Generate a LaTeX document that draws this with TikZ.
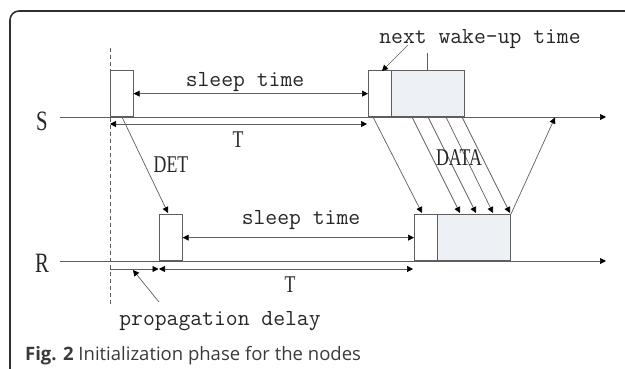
\documentclass[tikz,border=0pt]{standalone}
\usepackage{fontspec}
\setmainfont{Liberation Serif}
\newfontfamily\condf[FakeStretch=0.74]{Liberation Serif}
\newfontfamily\capf{Open Sans}
\usetikzlibrary{arrows.meta}
\definecolor{linec}{HTML}{5E5E5E}
\definecolor{boxfill}{HTML}{EDF0F5}
\definecolor{framec}{HTML}{303030}
\definecolor{capc}{HTML}{3A3A3A}
\tikzset{
  ln/.style={draw=linec, line width=0.7pt},
  tipk/.style={Triangle[length=6pt,width=6pt,color=black]},
  arr/.style={ln, -{Triangle[length=6pt,width=6pt,color=black]}},
  darr/.style={ln, {Triangle[length=6pt,width=6pt,color=black]}-{Triangle[length=6pt,width=6pt,color=black]}},
  wbox/.style={draw=linec, line width=0.7pt, fill=white, inner sep=0pt, minimum width=23pt, minimum height=46pt, anchor=south west},
  gbox/.style={wbox, fill=boxfill, minimum width=73pt},
  mono/.style={font=\ttfamily\fontsize{23}{27}\selectfont, text=black!85, inner sep=0pt, anchor=base},
  capl/.style={font=\condf\fontsize{24}{28}\selectfont, text=black!85, inner sep=0pt, anchor=base},
  axl/.style={font=\condf\fontsize{28}{32}\selectfont, text=black!85, inner sep=0pt}
}
\begin{document}
\begin{tikzpicture}[x=1pt,y=-1pt]
\useasboundingbox (0,0) rectangle (625,369);
% frame
\draw[framec, line width=1.6pt, rounded corners=9pt] (10,720) |- (720,11);
% time axes
\coordinate (s0) at (60,117);
\coordinate (s9) at (606,117);
\coordinate (r0) at (60,261);
\coordinate (r9) at (606,261);
\node[axl] (S) at (42,121) {S};
\node[axl] (R) at (42,263) {R};
\draw[arr] (s0) -- (s9);
\draw[arr] (r0) -- (r9);
% dashed reference line
\coordinate (d0) at (110,48);
\coordinate (d1) at (110,305);
\draw[ln, dashed, dash pattern=on 4pt off 3pt] (d0) -- (d1);
% boxes on S
\node[wbox] (s1) at (110,117) {};
\node[wbox] (s2) at (368,117) {};
\node[gbox] (s3) at (391,117) {};
% boxes on R
\node[wbox] (r1) at (159,261) {};
\node[wbox] (r2) at (414,261) {};
\node[gbox] (r3) at (437,261) {};
% sleep time arrows
\draw[darr] (s1.east) -- (s2.west);
\node[mono] (slS) at (245,87) {sleep time};
\draw[darr] (r1.east) -- (r2.west);
\node[mono] (slR) at (301,225) {sleep time};
% T arrows
\coordinate (tS0) at (110,124);
\coordinate (tS1) at (367,124);
\draw[darr] (tS0) -- (tS1);
\node[capl] (TS) at (238,148) {T};
\coordinate (tR0) at (159,269);
\coordinate (tR1) at (413,269);
\draw[darr] (tR0) -- (tR1);
\node[capl] (TR) at (290,292) {T};
% propagation delay
\coordinate (p0) at (110,269);
\coordinate (p1) at (158.5,269);
\draw[arr] (p0) -- (p1);
\coordinate (pa0) at (159,302);
\coordinate (pa1) at (133,270);
\draw[arr] (pa0) -- (pa1);
\node[mono] (pd) at (220,325) {propagation delay};
% DET
\coordinate (det0) at (122,117);
\coordinate (det1) at (168,213);
\draw[arr] (det0) -- (det1);
\node[capl] (DET) at (171,173) {DET};
% next wake-up time
\node[mono] (nw) at (480,44) {next wake-up time};
\coordinate (nw0) at (408,45);
\coordinate (nw1) at (382,71);
\draw[arr] (nw0) -- (nw1);
\coordinate (nv0) at (427,53);
\draw[ln] (nv0) -- (s3.north -| nv0);
% DATA
\coordinate (a0) at (373,117);  \coordinate (b0) at (422,213);
\coordinate (a1) at (412,117);  \coordinate (b1) at (460,213);
\coordinate (a2) at (428,117);  \coordinate (b2) at (476,213);
\coordinate (a3) at (446,117);  \coordinate (b3) at (493,213);
\coordinate (a4) at (462,117);  \coordinate (b4) at (510,213);
\draw[arr] (a0) -- (b0);
\draw[arr] (a1) -- (b1);
\draw[arr] (a2) -- (b2);
\draw[arr] (a3) -- (b3);
\draw[arr] (a4) -- (b4);
\node[capl] (DATA) at (459,165) {DATA};
\coordinate (c0) at (511,214);
\coordinate (c1) at (555,117.5);
\draw[arr] (c0) -- (c1);
% caption
\node[font=\capf\fontsize{18.5}{22}\selectfont, text=capc, inner sep=0pt, anchor=base west] (cap) at (25,360) {\textbf{Fig. 2} Initialization phase for the nodes};
\end{tikzpicture}
\end{document}
